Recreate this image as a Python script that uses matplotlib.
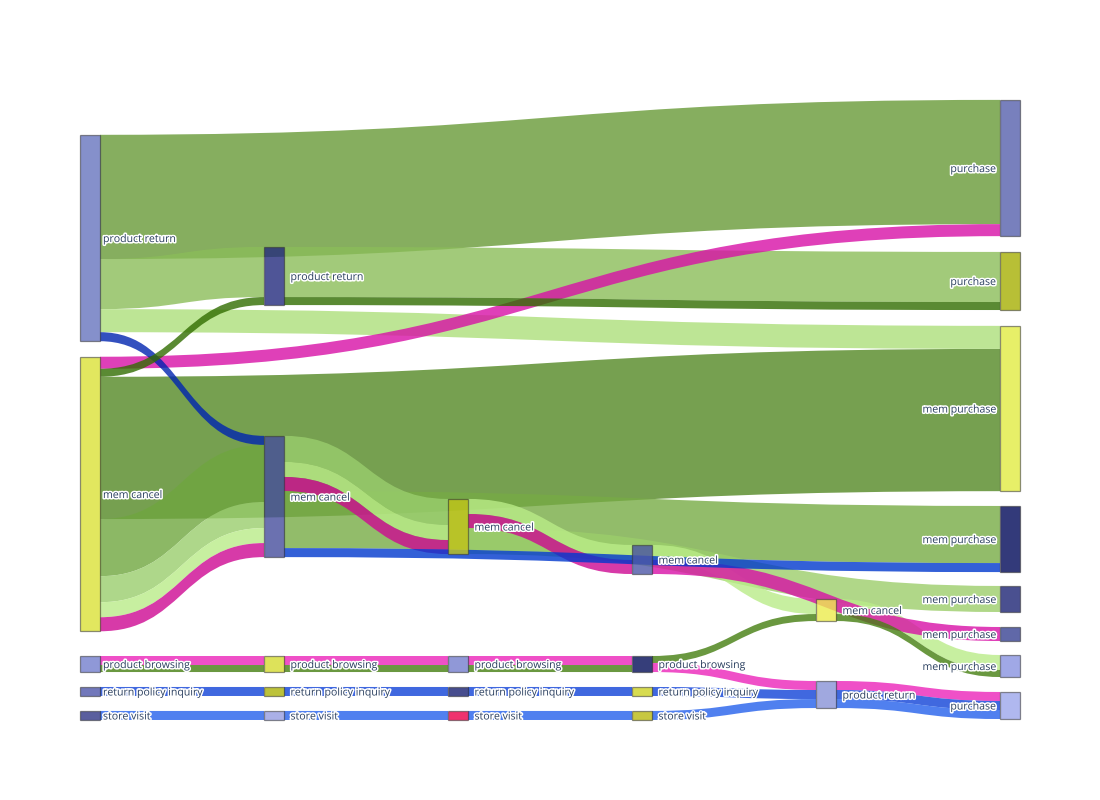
import matplotlib
matplotlib.use("Agg")
import matplotlib.pyplot as plt
from matplotlib.path import Path
from matplotlib.patches import PathPatch, Rectangle
import matplotlib.patheffects as pe
import numpy as np
from matplotlib.colors import to_rgb

# ---------------- data ----------------
node_labels = [
    "product return", "mem cancel", "product browsing", "return policy inquiry", "store visit",
    "product return", "mem cancel", "product browsing", "return policy inquiry", "store visit",
    "mem cancel", "product browsing", "return policy inquiry", "store visit",
    "mem cancel", "product browsing", "return policy inquiry", "store visit",
    "mem cancel", "product return",
    "purchase", "purchase", "mem purchase", "mem purchase", "mem purchase",
    "mem purchase", "mem purchase", "purchase",
]
node_colors = [
    "#8590cc", "#e2e85f", "#8f98d8", "#7278bb", "#5a5f9e",
    "#4f5597", "#6b71b0", "#dde25a", "#bcc23a", "#aab0e8",
    "#ced146", "#9098d8", "#474d8e", "#f0306e",
    "#7078b8", "#363d7a", "#d8dc50", "#c8c840",
    "#f0f070", "#a0a8e0",
    "#7880bd", "#b8c035", "#e8ef68", "#323a7a", "#4a5090",
    "#6068a8", "#a0a8e6", "#b0b8f0",
]
node_column = [0, 0, 0, 0, 0,
               1, 1, 1, 1, 1,
               2, 2, 2, 2,
               3, 3, 3, 3,
               4, 4,
               5, 5, 5, 5, 5, 5, 5, 5]
# vertical arrangement of node centres (fraction of plot height, like plotly node.y)
node_y = [0.2226, 0.6355, 0.9097, 0.9540, 0.9927,
          0.2839, 0.6395, 0.9097, 0.9540, 0.9927,
          0.6879, 0.9097, 0.9540, 0.9927,
          0.7411, 0.9097, 0.9540, 0.9927,
          0.8226, 0.9589,
          0.1097, 0.2919, 0.4976, 0.7081, 0.8048, 0.8613, 0.9129, 0.9766]

PINK = "#f050c8"
DGREEN = "#6a9840"
BLUE1 = "#4068e0"
BLUE2 = "#5080f0"

link_source = [0, 0, 0, 0, 1, 1, 1, 1, 1, 1, 1,
               5, 5, 6, 6, 6, 6, 6,
               10, 10, 10, 14, 14, 18, 18,
               2, 2, 7, 7, 11, 11, 15, 15,
               3, 8, 12, 16,
               4, 9, 13, 17,
               19, 19, 19]
link_target = [20, 5, 22, 6, 20, 5, 22, 6, 6, 6, 6,
               21, 21, 10, 10, 10, 23, 23,
               24, 14, 14, 18, 25, 26, 26,
               7, 7, 11, 11, 15, 15, 18, 19,
               8, 12, 16, 19,
               9, 13, 17, 19,
               27, 27, 27]
link_value = [124, 50, 23, 9, 12, 8, 142, 57, 26, 15, 14,
              50, 8, 26, 15, 14, 57, 9,
              26, 15, 14, 15, 14, 15, 7,
              9, 7, 9, 7, 9, 7, 7, 9,
              9, 9, 9, 9,
              9, 9, 9, 9,
              9, 9, 9]
link_color = ["#86ae5f", "#a2ca7a", "#bde595", "#2050c0", "#e040b8", "#5a8a32",
              "#76a050", "#8cb865", "#aed88a", "#c8f0a0", "#d83aa8",
              "#a2ca7a", "#5a8a32", "#aed88a", "#c8f0a0", "#d83aa8", "#92bc6a", "#3060d8",
              "#b0d888", "#c8f0a0", "#d83aa8", "#c8f0a0", "#e040b8", "#c8f0a0", DGREEN,
              PINK, DGREEN, PINK, DGREEN, PINK, DGREEN, DGREEN, PINK,
              BLUE1, BLUE1, BLUE1, BLUE1,
              BLUE2, BLUE2, BLUE2, BLUE2,
              PINK, BLUE1, BLUE2]

# ---------------- layout ----------------
X0, X1, Y0, Y1 = 80.0, 1020.0, 100.0, 720.0
NODE_W = 20.0
PAD = 15.0
LINK_ALPHA = 0.8
NODE_ALPHA = 0.8


def rgba_from_observed(hexc, a):
    rgb = np.array(to_rgb(hexc))
    base = np.clip((rgb - (1 - a)) / a, 0, 1)
    return (*base, a)


n_nodes = len(node_labels)
n_links = len(link_value)
val_in = np.zeros(n_nodes)
val_out = np.zeros(n_nodes)
for s, t, v in zip(link_source, link_target, link_value):
    val_out[s] += v
    val_in[t] += v
node_val = np.maximum(val_in, val_out)

ncols = max(node_column) + 1
H = Y1 - Y0
ky = min(
    (H - PAD * (sum(1 for c in node_column if c == col) - 1))
    / sum(node_val[i] for i in range(n_nodes) if node_column[i] == col)
    for col in range(ncols)
)
col_step = (X1 - X0 - NODE_W) / (ncols - 1)
node_x = [X0 + c * col_step for c in node_column]
node_h = node_val * ky
node_cy = [Y0 + f * H for f in node_y]
node_top = [cy - h / 2 for cy, h in zip(node_cy, node_h)]

# link attachment offsets
src_off = [0.0] * n_links
tgt_off = [0.0] * n_links
for n in range(n_nodes):
    outs = sorted([i for i in range(n_links) if link_source[i] == n],
                  key=lambda i: (node_cy[link_target[i]], i))
    y = node_top[n]
    for i in outs:
        src_off[i] = y
        y += link_value[i] * ky
    ins = sorted([i for i in range(n_links) if link_target[i] == n],
                 key=lambda i: (node_cy[link_source[i]], i))
    y = node_top[n]
    for i in ins:
        tgt_off[i] = y
        y += link_value[i] * ky

# ---------------- drawing ----------------
fig = plt.figure(figsize=(11, 8), dpi=100)
ax = fig.add_axes([0, 0, 1, 1])
ax.set_xlim(0, 1100)
ax.set_ylim(800, 0)
ax.axis("off")

# wider links are drawn first, thinner ones on top
draw_order = sorted(range(n_links), key=lambda i: (-link_value[i], i))
for i in draw_order:
    s, t = link_source[i], link_target[i]
    xa = node_x[s] + NODE_W
    xb = node_x[t]
    xm = (xa + xb) / 2
    w = link_value[i] * ky
    ya0, yb0 = src_off[i], tgt_off[i]
    ya1, yb1 = ya0 + w, yb0 + w
    verts = [(xa, ya0), (xm, ya0), (xm, yb0), (xb, yb0),
             (xb, yb1), (xm, yb1), (xm, ya1), (xa, ya1), (xa, ya0)]
    codes = [Path.MOVETO, Path.CURVE4, Path.CURVE4, Path.CURVE4,
             Path.LINETO, Path.CURVE4, Path.CURVE4, Path.CURVE4, Path.CLOSEPOLY]
    ax.add_patch(PathPatch(Path(verts, codes),
                           facecolor=rgba_from_observed(link_color[i], LINK_ALPHA),
                           edgecolor="none", zorder=1))

halo = [pe.withStroke(linewidth=2.2, foreground="white")]
for n in range(n_nodes):
    ax.add_patch(Rectangle((node_x[n], node_top[n]), NODE_W, node_h[n],
                           facecolor=rgba_from_observed(node_colors[n], NODE_ALPHA),
                           edgecolor=(0.2, 0.2, 0.2, 0.55), linewidth=0.9, zorder=2))
    if node_column[n] == ncols - 1:
        tx, ha = node_x[n] - 4, "right"
    elif node_column[n] == 0:
        tx, ha = node_x[n] + NODE_W + 3, "left"
    else:
        tx, ha = node_x[n] + NODE_W + 6.5, "left"
    ax.text(tx, node_cy[n] + 1.5, node_labels[n], ha=ha, va="center",
            fontsize=7.6, family=["Open Sans", "DejaVu Sans"], color="#2a3f5f",
            path_effects=halo, zorder=3)

fig.savefig("out.png", dpi=100, facecolor="white")
